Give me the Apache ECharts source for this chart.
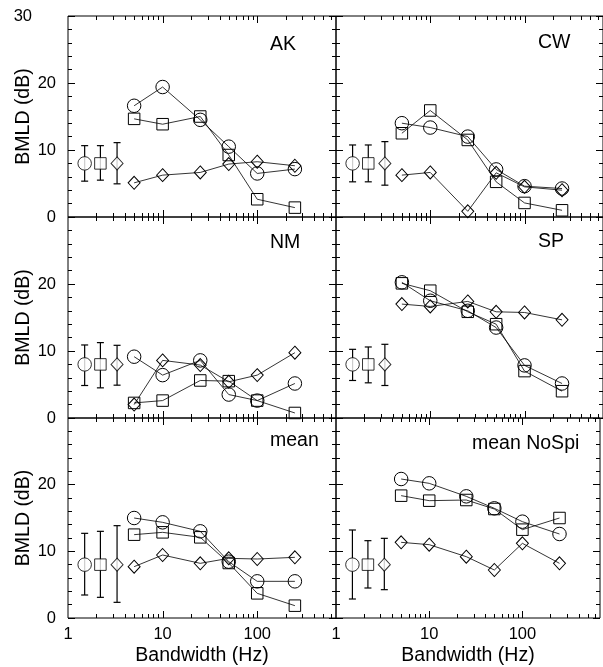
<!DOCTYPE html>
<html><head><meta charset="utf-8">
<script src="https://cdn.jsdelivr.net/npm/echarts@6/dist/echarts.min.js"></script>
<style>html,body{margin:0;padding:0;background:#fff}#c{width:603px;height:667px}</style>
</head><body><div id="c"></div>
<script>
// ---- data ----
const bandwidths = [5, 10, 25, 50, 100, 250];
const panelNames = ['AK', 'CW', 'NM', 'SP', 'mean', 'mean NoSpi'];
const errX = [1.5, 2.2, 3.3];          // circle, square, diamond reference points
const errMid = 8;
const yTicks = [0, 10, 20, 30];
const xTickLabels = [1, 10, 100];
const xMinorTicks = [2,3,4,5,6,7,8,9,20,30,40,50,60,70,80,90,200,300,400,500,600];
const xMajorTicks = [10, 100];

const akCircle  = [16.6, 19.4, 14.5, 10.5, 6.5, 7.15];
const akSquare  = [14.65, 13.85, 15.0, 9.25, 2.65, 1.4];
const akDiamond = [5.1, 6.25, 6.65, 7.9, 8.25, 7.65];
const akErrLow  = [5.35, 5.5, 4.95];
const akErrHigh = [10.65, 10.65, 11.1];

const cwCircle  = [14.0, 13.35, 12.0, 7.1, 4.6, 4.25];
const cwSquare  = [12.5, 15.9, 11.5, 5.25, 2.1, 1.0];
const cwDiamond = [6.25, 6.65, 0.85, 6.6, 4.5, 4.0];
const cwErrLow  = [5.25, 5.25, 4.75];
const cwErrHigh = [10.75, 10.75, 11.25];

const nmCircle  = [9.15, 6.4, 8.6, 3.5, 2.6, 5.15];
const nmSquare  = [2.25, 2.6, 5.6, 5.5, 2.6, 0.75];
const nmDiamond = [2.0, 8.6, 7.9, 5.4, 6.4, 9.75];
const nmErrLow  = [4.85, 4.5, 4.9];
const nmErrHigh = [10.9, 11.25, 10.85];

const spCircle  = [20.25, 17.5, 16.0, 13.5, 7.85, 5.15];
const spSquare  = [20.1, 19.0, 15.85, 14.0, 7.0, 4.0];
const spDiamond = [17.0, 16.65, 17.4, 15.85, 15.75, 14.65];
const spErrLow  = [5.6, 5.25, 4.85];
const spErrHigh = [10.25, 10.6, 11.0];

const meanCircle  = [15.0, 14.35, 13.0, 8.45, 5.5, 5.5];
const meanSquare  = [12.5, 12.85, 12.1, 8.25, 3.7, 1.85];
const meanDiamond = [7.7, 9.45, 8.2, 8.95, 8.85, 9.1];
const meanErrLow  = [3.45, 3.1, 2.35];
const meanErrHigh = [12.7, 13.0, 13.85];

const nospiCircle  = [20.85, 20.2, 18.25, 16.45, 14.45, 12.6];
const nospiSquare  = [18.35, 17.6, 17.7, 16.35, 13.25, 15.0];
const nospiDiamond = [11.35, 11.0, 9.2, 7.2, 11.2, 8.2];
const nospiErrLow  = [2.85, 4.5, 4.25];
const nospiErrHigh = [13.2, 11.6, 11.95];

const panels = [
  {c: akCircle, s: akSquare, d: akDiamond, lo: akErrLow, hi: akErrHigh},
  {c: cwCircle, s: cwSquare, d: cwDiamond, lo: cwErrLow, hi: cwErrHigh},
  {c: nmCircle, s: nmSquare, d: nmDiamond, lo: nmErrLow, hi: nmErrHigh},
  {c: spCircle, s: spSquare, d: spDiamond, lo: spErrLow, hi: spErrHigh},
  {c: meanCircle, s: meanSquare, d: meanDiamond, lo: meanErrLow, hi: meanErrHigh},
  {c: nospiCircle, s: nospiSquare, d: nospiDiamond, lo: nospiErrLow, hi: nospiErrHigh}
];

// ---- layout / style ----
const FONT = '"Liberation Sans", Arial, Helvetica, sans-serif';
const X_MIN = 1, X_MAX = 680, Y_MIN = 0, Y_MAX = 30;
const gridLefts = [68, 336];
const gridTops = [16, 217, 418];
const GW = 268, GH = 201;
const symDefs = [
  {symbol: 'circle', size: 13.5},
  {symbol: 'rect', size: 11.5},
  {symbol: 'diamond', size: [12, 13]}
];
const labelPos = [
  {x: 270, y: 45}, {x: 538, y: 43},
  {x: 270, y: 243}, {x: 538, y: 242},
  {x: 270, y: 441}, {x: 472, y: 444}
];

const grid = [], xAxis = [], yAxis = [], series = [], graphic = [];

panels.forEach((p, i) => {
  const row = Math.floor(i / 2), col = i % 2;
  grid.push({left: gridLefts[col], top: gridTops[row], width: GW, height: GH,
    show: true, borderColor: '#000', borderWidth: 1, backgroundColor: 'transparent'});
  const bottom = row === 2;
  xAxis.push({
    type: 'log', logBase: 10, gridIndex: i, min: X_MIN, max: X_MAX,
    axisLine: {show: false}, axisTick: {show: false}, splitLine: {show: false},
    axisLabel: {
      show: bottom, margin: 8, color: '#000', fontSize: 16.5, fontFamily: FONT,
      formatter: v => { const r = Math.round(v); return (xTickLabels.includes(r) && Math.abs(v - r) < 1e-6) ? String(r) : ''; }
    },
    name: bottom ? 'Bandwidth (Hz)' : '', nameLocation: 'middle', nameGap: 28, nameMoveOverlap: false,
    nameTextStyle: {color: '#000', fontSize: 19.5, fontFamily: FONT}
  });
  const yCommon = {
    type: 'value', gridIndex: i, min: Y_MIN, max: Y_MAX, interval: 10,
    axisLine: {show: false}, splitLine: {show: false},
    axisTick: {show: true, inside: true, length: 7, lineStyle: {color: '#000', width: 1}},
    minorTick: {show: true, splitNumber: 5, length: 4, lineStyle: {color: '#000', width: 1}}
  };
  yAxis.push(Object.assign({}, yCommon, {
    position: 'left',
    axisLabel: {
      show: col === 0, margin: 12, color: '#000', fontSize: 16.5, fontFamily: FONT,
      formatter: v => {
        if (!yTicks.includes(v)) return '';
        if (v === 30) return row === 0 ? '{t|30}' : '';
        return String(v);
      },
      rich: {t: {fontSize: 16.5, fontFamily: FONT, color: '#000', padding: [0, 24, 0, 0]}}
    },
    name: col === 0 ? 'BMLD (dB)' : '', nameLocation: 'middle', nameGap: 34, nameRotate: 90,
    nameMoveOverlap: false,
    nameTextStyle: {color: '#000', fontSize: 19.5, fontFamily: FONT}
  }));
  yAxis.push(Object.assign({}, yCommon, {position: 'right', axisLabel: {show: false}}));
  const yi = 2 * i;

  // x ticks (log minor + major) at bottom and top, inward
  const tickData = xMinorTicks.map(v => [v, Y_MIN, 0]).concat(xMajorTicks.map(v => [v, Y_MIN, 1]));
  series.push({
    type: 'custom', xAxisIndex: i, yAxisIndex: yi, silent: true, clip: false, z: 1,
    data: tickData,
    renderItem: (params, api) => {
      const v = api.value(0);
      const len = api.value(2) ? 7 : 4;
      const b = api.coord([v, Y_MIN]);
      const t = api.coord([v, Y_MAX]);
      const x = Math.round(b[0]) + 0.5;
      return {type: 'group', children: [
        {type: 'line', shape: {x1: x, y1: b[1], x2: x, y2: b[1] - len}, style: {stroke: '#000', lineWidth: 1}},
        {type: 'line', shape: {x1: x, y1: t[1], x2: x, y2: t[1] + len}, style: {stroke: '#000', lineWidth: 1}}
      ]};
    }
  });

  // data lines
  [p.c, p.s, p.d].forEach((arr, k) => {
    series.push({
      type: 'line', xAxisIndex: i, yAxisIndex: yi, z: 3,
      data: bandwidths.map((b, j) => [b, arr[j]]),
      symbol: symDefs[k].symbol, symbolSize: symDefs[k].size, showAllSymbol: true,
      lineStyle: {color: '#000', width: 0.8},
      itemStyle: {color: 'rgba(0,0,0,0)', borderColor: '#000', borderWidth: 1},
      emphasis: {disabled: true}, animation: false
    });
  });

  // error bars
  series.push({
    type: 'custom', xAxisIndex: i, yAxisIndex: yi, z: 3, silent: true,
    data: errX.map((x, k) => [x, p.lo[k], p.hi[k]]),
    renderItem: (params, api) => {
      const x = api.value(0);
      const lo = api.coord([x, api.value(1)]);
      const hi = api.coord([x, api.value(2)]);
      const cx = lo[0];
      const w = 3.5;
      const st = {stroke: '#000', lineWidth: 1.2};
      return {type: 'group', children: [
        {type: 'line', shape: {x1: cx, y1: lo[1], x2: cx, y2: hi[1]}, style: st},
        {type: 'line', shape: {x1: cx - w, y1: lo[1], x2: cx + w, y2: lo[1]}, style: st},
        {type: 'line', shape: {x1: cx - w, y1: hi[1], x2: cx + w, y2: hi[1]}, style: st}
      ]};
    }
  });
  errX.forEach((x, k) => {
    series.push({
      type: 'scatter', xAxisIndex: i, yAxisIndex: yi, z: 4,
      data: [[x, errMid]],
      symbol: symDefs[k].symbol, symbolSize: symDefs[k].size,
      itemStyle: {color: '#fff', borderColor: '#000', borderWidth: 1},
      emphasis: {disabled: true}, animation: false
    });
  });

  graphic.push({
    type: 'text', x: labelPos[i].x, y: labelPos[i].y, z: 10,
    style: {text: panelNames[i], font: '19.5px ' + FONT, fill: '#000', verticalAlign: 'middle', align: 'left'}
  });
});

const chart = echarts.init(document.getElementById('c'), null, {renderer: 'canvas'});
chart.setOption({animation: false, grid, xAxis, yAxis, series, graphic});
</script>
</body></html>
